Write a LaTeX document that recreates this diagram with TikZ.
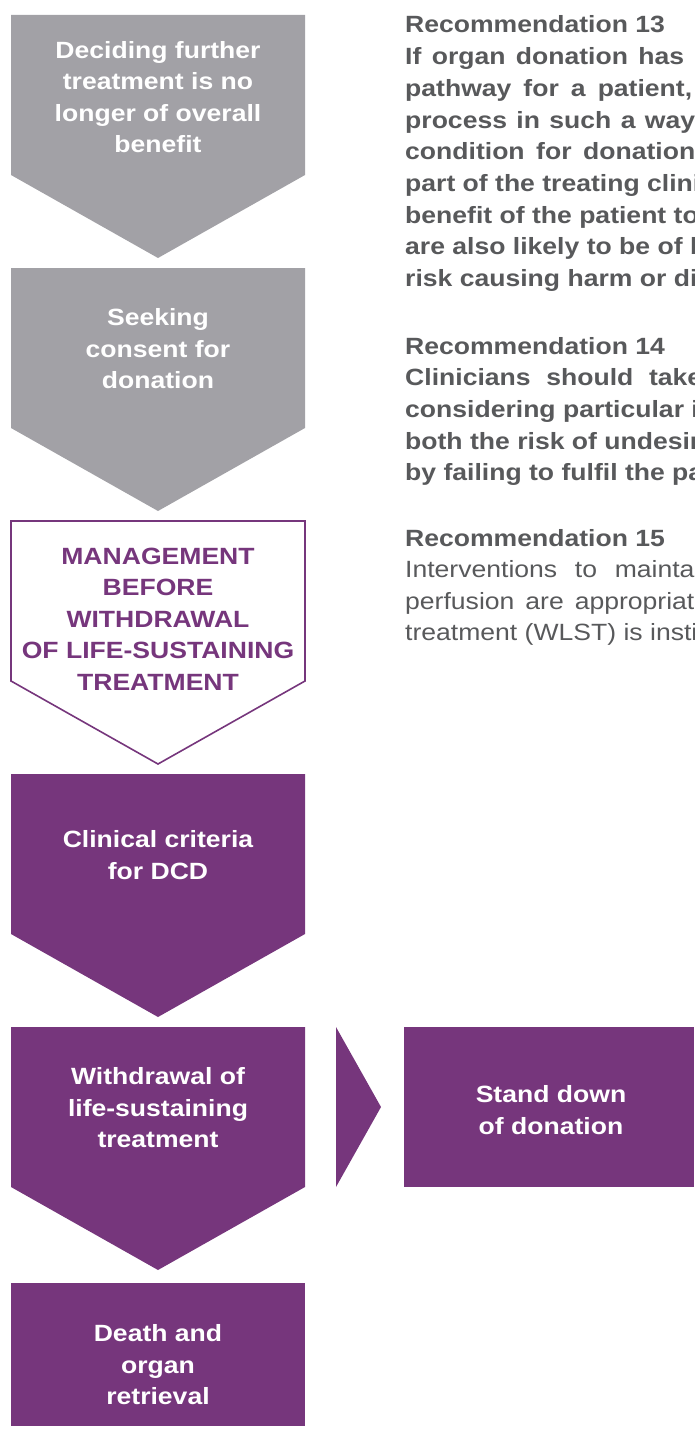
\documentclass[tikz,border=0pt]{standalone}
\usepackage{fontspec}
\setmainfont[FakeStretch=1.13]{Liberation Sans}
\definecolor{stepgrey}{HTML}{A2A1A6}
\definecolor{steppurple}{HTML}{76367C}
\definecolor{recgrey}{HTML}{58595B}

\tikzstyle{steptext}=[align=center,inner sep=0pt,text=white,font=\bfseries\fontsize{23.5}{31.5}\selectfont]
\tikzstyle{recbody} = [anchor=base west,inner sep=0pt,text=recgrey,font=\bfseries\fontsize{23.5}{31.5}\selectfont]
\tikzstyle{recplain} = [anchor=base west,inner sep=0pt,text=recgrey,font=\fontsize{23.5}{31.5}\selectfont]
\newcommand{\recskip}{31.7}

\begin{document}
\begin{tikzpicture}[x=1pt, y=-1pt]
    \useasboundingbox (0,0) rectangle (694,1434);
    % First we draw the chevrons of the pathway
    \foreach \top/\colour in {15/stepgrey, 268/stepgrey, 774/steppurple, 1027/steppurple}
        \fill[\colour] (11,\top) -- ++(294,0) -- ++(0,160) -- ++(-147,83) -- ++(-147,-83) -- cycle;
    \draw[steppurple, line width=1.6pt] (11,521) -- ++(294,0) -- ++(0,160) -- ++(-147,83) -- ++(-147,-83) -- cycle;
    \fill[steppurple] (11,1283) rectangle (305,1426);
    % Side arrow and stand down box
    \fill[steppurple] (336,1027) -- (381,1107) -- (336,1187) -- cycle;
    \fill[steppurple] (404,1027) rectangle (694,1187);
    % Texts of the steps
    \foreach \pos/\name/\txt in {{(158,97)/decide/{Deciding further\\treatment is no\\longer of overall\\benefit}},
        {(158,349)/consent/{Seeking\\consent for\\donation}},
        {(158,855)/criteria/{Clinical criteria\\for DCD}},
        {(158,1108)/withdraw/{Withdrawal of\\life-sustaining\\treatment}},
        {(158,1365)/retrieve/{Death and\\organ\\retrieval}},
        {(551,1110)/standdown/{Stand down\\of donation}}}
        \node[steptext] (\name) at \pos {\txt};
    \node[steptext, text=steppurple] (manage) at (158,619) {MANAGEMENT\\BEFORE\\WITHDRAWAL\\OF LIFE-SUSTAINING\\TREATMENT};
    % Recommendations, one node per line
    \foreach \i/\txt in {0/Recommendation 13, 1/{\makebox[279pt][s]{If organ donation has}},
        2/{\makebox[287pt][s]{pathway for a patient,}}, 3/{\makebox[290pt][s]{process in such a way}},
        4/{\makebox[290pt][s]{condition for donation}}, 5/part of the treating clinicians,
        6/benefit of the patient to, 7/are also likely to be of benefit, 8/risk causing harm or distress}
        \node[recbody] (rec13l\i) at (405,33+\recskip*\i) {\txt};
    \foreach \i/\txt in {0/Recommendation 14, 1/{\makebox[297pt][s]{Clinicians should take}},
        2/considering particular interventions, 3/both the risk of undesirable,
        4/by failing to fulfil the patient's}
        \node[recbody] (rec14l\i) at (405,354+\recskip*\i) {\txt};
    \node[recbody] (rec15l0) at (405,546) {Recommendation 15};
    \foreach \i/\txt in {1/{\makebox[310pt][s]{Interventions to maintain}}, 2/{\makebox[304pt][s]{perfusion are appropriate}},
        3/treatment (WLST) is instigated}
        \node[recplain] (rec15l\i) at (405,546+31.5*\i) {\txt};
\end{tikzpicture}
\end{document}
